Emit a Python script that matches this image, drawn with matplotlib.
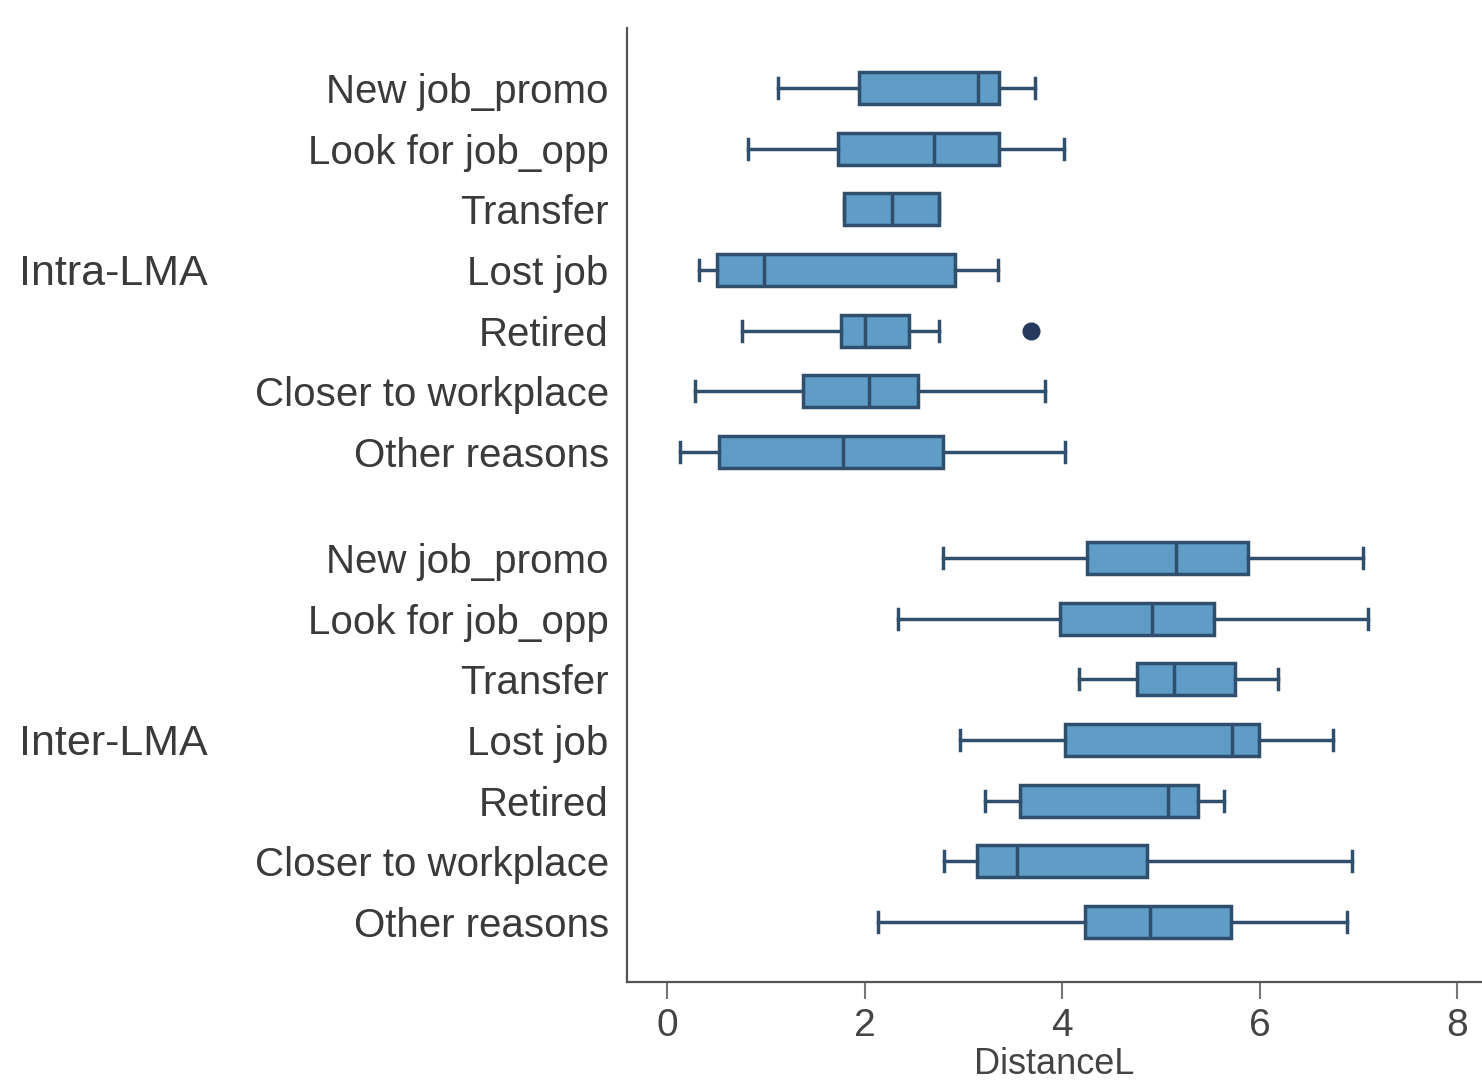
import matplotlib
matplotlib.use("Agg")
import matplotlib.pyplot as plt
import matplotlib.transforms as mtransforms

categories = ["New job_promo", "Look for job_opp", "Transfer", "Lost job",
              "Retired", "Closer to workplace", "Other reasons"]
groups = ["Intra-LMA", "Inter-LMA"]

# Intra-LMA
intra_low = [1.12, 0.82, 1.79, 0.32, 0.76, 0.28, 0.13]
intra_q1 = [1.94, 1.73, 1.79, 0.51, 1.76, 1.38, 0.53]
intra_med = [3.15, 2.70, 2.28, 0.98, 2.00, 2.05, 1.78]
intra_q3 = [3.36, 3.36, 2.75, 2.92, 2.45, 2.54, 2.79]
intra_high = [3.73, 4.02, 2.75, 3.35, 2.75, 3.83, 4.03]
intra_out = [[], [], [], [], [3.69], [], []]

# Inter-LMA
inter_low = [2.79, 2.34, 4.17, 2.97, 3.22, 2.80, 2.14]
inter_q1 = [4.25, 3.98, 4.76, 4.03, 3.57, 3.14, 4.23]
inter_med = [5.15, 4.91, 5.13, 5.72, 5.07, 3.54, 4.89]
inter_q3 = [5.88, 5.54, 5.75, 5.99, 5.38, 4.86, 5.71]
inter_high = [7.05, 7.10, 6.19, 6.74, 5.64, 6.93, 6.88]
inter_out = [[], [], [], [], [], [], []]

xticks = [0, 2, 4, 6, 8]

FILL = "#5f9cc6"
EDGE = "#2f4f6c"
TEXT = "#3a3a3a"
FONT = ["Liberation Sans", "DejaVu Sans"]

plt.rcParams["font.family"] = FONT

fig = plt.figure(figsize=(14.82, 10.81), dpi=100)
ax = fig.add_axes([0.423, 0.0916, 0.577, 0.8825])

stats = []
positions = []
gap = 0.75
for g, (lo, q1, me, q3, hi, out) in enumerate([
        (intra_low, intra_q1, intra_med, intra_q3, intra_high, intra_out),
        (inter_low, inter_q1, inter_med, inter_q3, inter_high, inter_out)]):
    for i in range(len(categories)):
        stats.append(dict(whislo=lo[i], q1=q1[i], med=me[i], q3=q3[i],
                          whishi=hi[i], fliers=out[i], label=categories[i]))
        positions.append(g * (len(categories) + gap) + i)

ax.bxp(stats, positions=positions, vert=False, widths=0.53, patch_artist=True,
       capwidths=0.33,
       boxprops=dict(facecolor=FILL, edgecolor=EDGE, linewidth=2.5),
       medianprops=dict(color=EDGE, linewidth=2.5),
       whiskerprops=dict(color=EDGE, linewidth=2.5),
       capprops=dict(color=EDGE, linewidth=2.5),
       flierprops=dict(marker="o", markerfacecolor="#253a5c",
                       markeredgecolor="#253a5c", markersize=12))

ax.set_ylim(14.74, -0.99)
ax.set_xlim(-0.405, 8.25)
ax.set_xticks(xticks)
ax.set_xticklabels([str(t) for t in xticks])
ax.set_yticks(positions)
ax.set_yticklabels([s["label"] for s in stats], va="center_baseline")

ax.tick_params(axis="y", length=0, pad=13, labelsize=29, labelcolor=TEXT)
ax.tick_params(axis="x", length=12, width=1.5, color="#777777", pad=7,
               labelsize=28, labelcolor="#444444")

for side in ["top", "right"]:
    ax.spines[side].set_visible(False)
for side in ["left", "bottom"]:
    ax.spines[side].set_color("#555555")
    ax.spines[side].set_linewidth(1.6)

ax.set_xlabel("DistanceL", fontsize=26, color="#444444", labelpad=2)

# group labels
trans = mtransforms.blended_transform_factory(fig.transFigure, ax.transData)
for g, name in enumerate(groups):
    ycenter = g * (len(categories) + gap) + 3
    ax.text(0.013, ycenter, name, transform=trans,
            fontsize=31, color=TEXT, ha="left", va="center_baseline")

fig.savefig("out.png", dpi=100, facecolor="white")
